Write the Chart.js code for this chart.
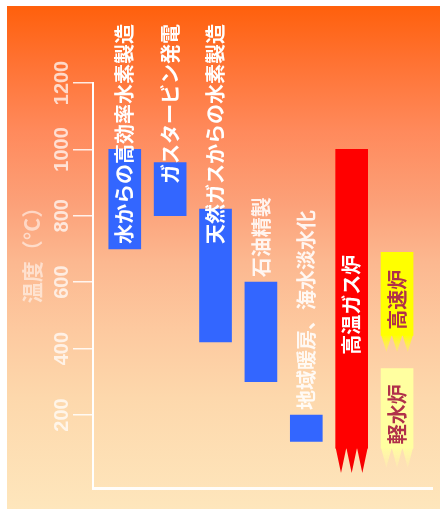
<!DOCTYPE html>
<html>
<head>
<meta charset="utf-8">
<script src="https://cdn.jsdelivr.net/npm/chart.js@4.4.1/dist/chart.umd.min.js"></script>
<style>
  html, body { margin: 0; padding: 0; background: #fff; }
  #panel {
    position: absolute; left: 7px; top: 6px; width: 433px; height: 503px;
    background: linear-gradient(to bottom,
      #ff600c 0%, #ff7232 11%, #ff8a5c 25%, #fca078 39%,
      #fcb890 51%, #fdcaa0 65%, #fdd8ac 78%, #fee6bc 100%);
  }
  canvas { display: block; }
</style>
</head>
<body>
<div id="panel"><canvas id="tempChart" width="433" height="503"></canvas></div>
<script>
// 各プロセスに必要な温度範囲 (℃)
const processNames = ['水からの高効率水素製造', 'ガスタービン発電', '天然ガスからの水素製造', '石油精製', '地域暖房、海水淡水化'];
const processLow = [700, 800, 420, 300, 120];
const processHigh = [1000, 960, 820, 600, 200];

// 原子炉の出口温度 (ギザギザの先端まで)
const reactorNames = ['高温ガス炉', '高速炉', '軽水炉'];
const reactorSlot = [6, 7, 7];
const reactorLow = [100, 440, 100];
const reactorHigh = [1000, 690, 340];
const reactorTip = [25, 390, 40];

const yTicks = [200, 400, 600, 800, 1000, 1200];
const yTitle = '温度（°C）';

const LABEL_FONT = 'bold 20px "Noto Sans CJK JP", sans-serif';

// 炉のバーの下端にギザギザを描く
const teethPlugin = {
  id: 'teeth',
  afterDatasetsDraw(chart) {
    const { ctx, scales: { y } } = chart;
    chart.data.datasets.forEach((ds, di) => {
      if (ds.tip === undefined) return;
      const bar = chart.getDatasetMeta(di).data[0];
      const w = bar.width;
      const left = bar.x - w / 2;
      const top = y.getPixelForValue(ds.data[0].y[0]) - 0.5;
      const tipY = y.getPixelForValue(ds.tip);
      const g = ctx.createLinearGradient(0, top, 0, tipY);
      g.addColorStop(0, ds.tipFrom);
      g.addColorStop(1, ds.tipTo);
      ctx.save();
      ctx.fillStyle = g;
      ctx.beginPath();
      for (let k = 0; k < 3; k++) {
        const a = left + k * w / 3;
        ctx.moveTo(a, top);
        ctx.lineTo(a + w / 6, tipY);
        ctx.lineTo(a + w / 3, top);
        ctx.closePath();
      }
      ctx.fill();
      ctx.restore();
    });
  }
};

function drawUp(ctx, text, x, y, align) {
  ctx.save();
  ctx.translate(x, y);
  ctx.rotate(-Math.PI / 2);
  ctx.textAlign = align;
  ctx.textBaseline = 'middle';
  ctx.fillText(text, 0, 0);
  ctx.restore();
}

// 縦書き(回転)ラベル、目盛り、軸タイトル
const labelPlugin = {
  id: 'labels',
  afterDraw(chart) {
    const { ctx, scales: { y } } = chart;
    const topLine = 18;

    ctx.save();
    ctx.font = 'bold 20px "Liberation Sans", sans-serif';
    ctx.fillStyle = 'rgba(255,255,255,0.72)';
    yTicks.forEach(v => drawUp(ctx, String(v), 55, y.getPixelForValue(v), 'center'));

    ctx.font = 'bold 21px "Noto Sans CJK JP", sans-serif';
    ctx.fillStyle = 'rgba(255,255,255,0.55)';
    drawUp(ctx, yTitle, 25, 244, 'center');

    ctx.font = LABEL_FONT;
    const procMeta = chart.getDatasetMeta(0);
    processNames.forEach((name, i) => {
      const bar = procMeta.data[i];
      const barTop = y.getPixelForValue(processHigh[i]);
      const len = ctx.measureText(name).width;
      if (barTop - 5 - len > topLine) {
        ctx.fillStyle = 'rgba(255,255,255,0.88)';
        drawUp(ctx, name, bar.x, barTop - 5, 'left');
      } else {
        ctx.fillStyle = '#fff';
        drawUp(ctx, name, bar.x, topLine, 'right');
      }
    });

    chart.data.datasets.forEach((ds, di) => {
      if (ds.tip === undefined) return;
      const bar = chart.getDatasetMeta(di).data[0];
      const mid = (y.getPixelForValue(ds.data[0].y[0]) + y.getPixelForValue(ds.data[0].y[1])) / 2;
      ctx.fillStyle = ds.labelColor;
      drawUp(ctx, ds.label, bar.x, mid + 6, 'center');
    });
    ctx.restore();
  }
};

const reactorStyle = [
  { backgroundColor: '#ff0000', tipFrom: '#ff0000', tipTo: '#f00000', labelColor: '#ffffff' },
  { backgroundColor: '#ffff00', tipFrom: '#ffff00', tipTo: 'rgba(255,245,90,0.5)', labelColor: '#b0304a' },
  { backgroundColor: '#ffffa0', tipFrom: 'rgba(255,255,160,0.95)', tipTo: 'rgba(255,250,170,0.25)', labelColor: '#b0304a' }
];

const datasets = [{
  label: 'プロセス',
  data: processNames.map((_, i) => ({ x: i + 1, y: [processLow[i], processHigh[i]] })),
  backgroundColor: '#3366ff'
}].concat(reactorNames.map((name, i) => Object.assign({
  label: name,
  data: [{ x: reactorSlot[i], y: [reactorLow[i], reactorHigh[i]] }],
  tip: reactorTip[i]
}, reactorStyle[i])));

new Chart(document.getElementById('tempChart'), {
  type: 'bar',
  data: { datasets },
  options: {
    responsive: false,
    animation: false,
    events: [],
    datasets: { bar: { grouped: false, barThickness: 32, borderWidth: 0 } },
    layout: { padding: { top: 77, right: 8, left: 0, bottom: 0 } },
    plugins: { legend: { display: false }, tooltip: { enabled: false } },
    scales: {
      x: {
        type: 'linear',
        offset: false,
        min: 0.3,
        max: 7.77,
        grid: { display: false, offset: false },
        ticks: { display: false },
        border: { color: 'rgba(255,255,255,0.95)', width: 3 },
        afterFit(s) { s.height = 21; }
      },
      y: {
        min: -20,
        max: 1200,
        afterBuildTicks(s) { s.ticks = yTicks.map(v => ({ value: v })); },
        ticks: { display: false },
        grid: { drawOnChartArea: false, drawTicks: true, tickLength: 20, color: 'rgba(255,255,255,0.85)', lineWidth: 1.5 },
        border: { color: '#ffffff', width: 2 },
        afterFit(s) { s.width = 86; }
      }
    }
  },
  plugins: [teethPlugin, labelPlugin]
});
</script>
</body>
</html>
